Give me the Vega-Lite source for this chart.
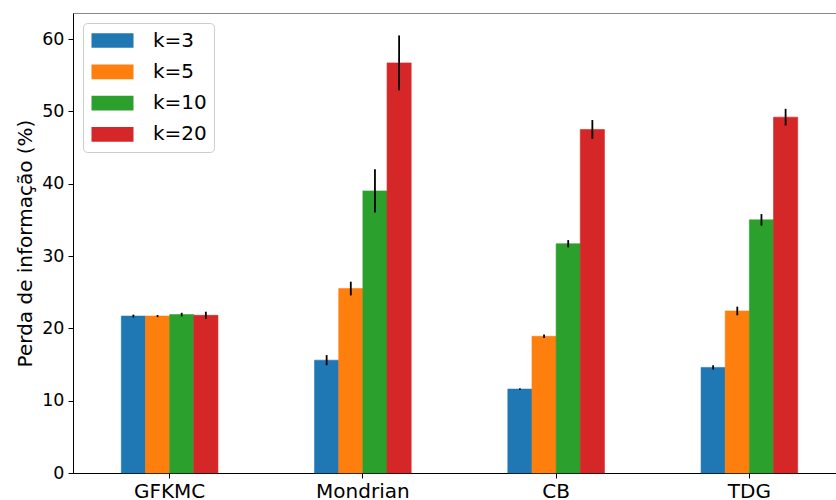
{
  "$schema": "https://vega.github.io/schema/vega-lite/v6.json",
  "width": 773,
  "height": 460,
  "autosize": {"type": "none"},
  "padding": {"left": 73, "top": 13, "right": 0, "bottom": 27},
  "background": "white",
  "config": {
    "font": "DejaVu Sans",
    "view": {"stroke": "#888", "strokeWidth": 1}
  },
  "data": {
    "values": [
      {"method": "GFKMC", "k": "k=3", "value": 21.7, "lo": 21.5, "hi": 21.9},
      {"method": "GFKMC", "k": "k=5", "value": 21.7, "lo": 21.55, "hi": 21.85},
      {"method": "GFKMC", "k": "k=10", "value": 21.9, "lo": 21.65, "hi": 22.15},
      {"method": "GFKMC", "k": "k=20", "value": 21.8, "lo": 21.3, "hi": 22.3},
      {"method": "Mondrian", "k": "k=3", "value": 15.6, "lo": 14.9, "hi": 16.3},
      {"method": "Mondrian", "k": "k=5", "value": 25.5, "lo": 24.55, "hi": 26.45},
      {"method": "Mondrian", "k": "k=10", "value": 39.0, "lo": 36.0, "hi": 42.0},
      {"method": "Mondrian", "k": "k=20", "value": 56.7, "lo": 52.9, "hi": 60.5},
      {"method": "CB", "k": "k=3", "value": 11.6, "lo": 11.5, "hi": 11.7},
      {"method": "CB", "k": "k=5", "value": 18.9, "lo": 18.65, "hi": 19.15},
      {"method": "CB", "k": "k=10", "value": 31.7, "lo": 31.2, "hi": 32.2},
      {"method": "CB", "k": "k=20", "value": 47.5, "lo": 46.2, "hi": 48.8},
      {"method": "TDG", "k": "k=3", "value": 14.6, "lo": 14.3, "hi": 14.9},
      {"method": "TDG", "k": "k=5", "value": 22.4, "lo": 21.8, "hi": 23.0},
      {"method": "TDG", "k": "k=10", "value": 35.0, "lo": 34.2, "hi": 35.8},
      {"method": "TDG", "k": "k=20", "value": 49.2, "lo": 48.05, "hi": 50.35}
    ]
  },
  "encoding": {
    "x": {
      "field": "method",
      "type": "nominal",
      "sort": ["GFKMC", "Mondrian", "CB", "TDG"],
      "scale": {"paddingInner": 0.5, "paddingOuter": 0.25},
      "axis": {
        "title": null,
        "labelAngle": 0,
        "labelFontSize": 20,
        "labelColor": "black",
        "labelPadding": 3,
        "tickSize": 5,
        "tickColor": "black",
        "domainColor": "black",
        "grid": false
      }
    },
    "xOffset": {
      "field": "k",
      "type": "nominal",
      "sort": ["k=3", "k=5", "k=10", "k=20"],
      "scale": {"paddingInner": 0, "paddingOuter": 0}
    }
  },
  "layer": [
    {
      "mark": {"type": "bar", "strokeWidth": 0.6},
      "encoding": {
        "y": {
          "field": "value",
          "type": "quantitative",
          "scale": {"domain": [0, 63.6], "nice": false, "zero": true},
          "axis": {
            "values": [0, 10, 20, 30, 40, 50, 60],
            "grid": false,
            "title": "Perda de informação (%)",
            "titleFontSize": 20,
            "titleFontWeight": "normal",
            "titleColor": "black",
            "titlePadding": 6,
            "labelFontSize": 17.5,
            "labelColor": "black",
            "labelPadding": 4,
            "tickSize": 5,
            "tickColor": "black",
            "domainColor": "black"
          }
        },
        "stroke": {
          "field": "k",
          "type": "nominal",
          "sort": ["k=3", "k=5", "k=10", "k=20"],
          "scale": {"range": ["#1f77b4", "#ff7f0e", "#2ca02c", "#d62728"]},
          "legend": null
        },
        "color": {
          "field": "k",
          "type": "nominal",
          "sort": ["k=3", "k=5", "k=10", "k=20"],
          "scale": {"range": ["#1f77b4", "#ff7f0e", "#2ca02c", "#d62728"]},
          "legend": {
            "title": null,
            "orient": "none",
            "legendX": 10,
            "legendY": 10,
            "labelFontSize": 20,
            "labelColor": "black",
            "symbolType": "M-2,-0.7H2V0.7H-2Z",
            "symbolSize": 441,
            "symbolStrokeWidth": 0,
            "symbolOffset": 12,
            "labelOffset": 30,
            "padding": 7,
            "rowPadding": 10.3,
            "strokeColor": "#cccccc",
            "fillColor": "white",
            "cornerRadius": 4
          }
        }
      }
    },
    {
      "mark": {"type": "rule", "color": "black", "strokeWidth": 1.8},
      "encoding": {
        "y": {"field": "lo", "type": "quantitative"},
        "y2": {"field": "hi"}
      }
    }
  ]
}
